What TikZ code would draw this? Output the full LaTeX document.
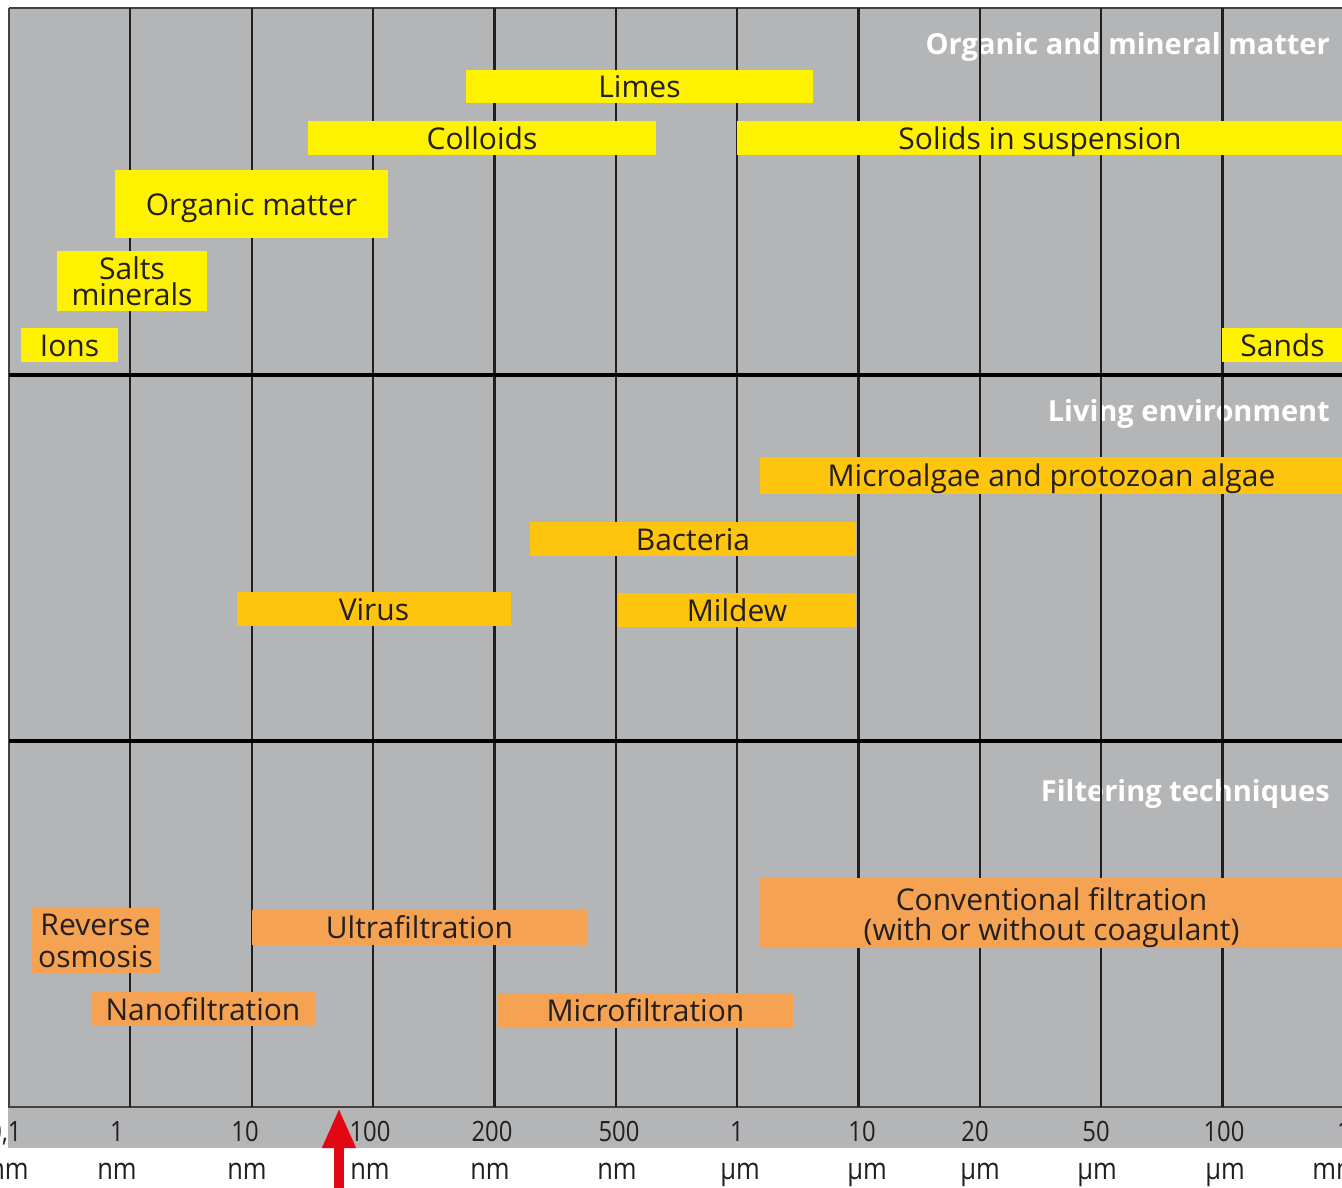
\documentclass[tikz,border=0pt]{standalone}
\usepackage{fontspec}
\setmainfont{Open Sans}
\newfontfamily\axisfont[FakeStretch=0.85]{Open Sans}
\usetikzlibrary{arrows.meta}
\definecolor{bggrey}{RGB}{180,181,183}
\definecolor{matyellow}{RGB}{255,242,0}
\definecolor{livyellow}{RGB}{255,197,14}
\definecolor{filtorange}{RGB}{245,163,82}
\definecolor{inkdark}{RGB}{35,31,32}
\definecolor{arrowred}{RGB}{227,6,19}
\begin{document}
\begin{tikzpicture}[x=1pt,y=-1pt,
  bartext/.style={inner sep=0pt, outer sep=0pt, text=inkdark, align=center,
    font=\fontsize{30}{28}\selectfont},
  bar/.style={bartext, text height=22.5pt, text depth=0pt},
  multibar/.style={bartext},
  matbar/.style={bar, fill=matyellow},
  livbar/.style={bar, fill=livyellow},
  filtbar/.style={bar, fill=filtorange},
  header/.style={anchor=east, text=white, inner sep=0pt,
    font=\fontsize{29}{30}\selectfont\bfseries},
  gridline/.style={line width=2.2pt, draw=inkdark},
  bandline/.style={line width=4pt, draw=black},
  frameline/.style={line width=1.6pt, draw=inkdark!85},
  axisnum/.style={anchor=base, inner sep=0pt, text=inkdark, font=\axisfont\fontsize{28}{28}\selectfont},
  axisunit/.style={anchor=base, inner sep=0pt, text=inkdark, font=\axisfont\fontsize{30}{30}\selectfont},
  redarrow/.style={draw=arrowred, line width=10pt, -{Triangle[width=31pt,length=40pt]}}
]
\useasboundingbox (0,0) rectangle (1342,1187);
% background
\fill[white] (0,0) rectangle (1342,1187);
\fill[bggrey] (9,8) rectangle (1343,1107);
\fill[bggrey] (8,1107) rectangle (1343,1148);

% headers (under grid lines)
\node[header] (hmat) at (1330,47) {Organic and mineral matter};
\node[header] (hliv) at (1330,414) {Living environment};
\node[header] (hfilt) at (1330,794) {Filtering techniques};

% frame
\draw[frameline] (9,8) -- (1343,8);
\draw[frameline] (9,8) -- (9,1107);
\draw[frameline] (8,1107) -- (1343,1107);

% grid lines
\foreach \i in {1,...,10}
  \draw[gridline] ({9+121.35*\i},8) -- ({9+121.35*\i},1107);
\draw[bandline] (9,375) -- (1343,375);
\draw[bandline] (9,741) -- (1343,741);

% organic and mineral matter
\node[matbar, minimum width=347pt, minimum height=33pt] (limes) at (639.5,86.5) {Limes};
\node[matbar, minimum width=348pt, minimum height=34pt] (colloids) at (482,138) {Colloids};
\node[matbar, minimum width=606pt, minimum height=34pt] (solids) at (1040,138) {Solids in suspension};
\node[matbar, minimum width=273pt, minimum height=68pt] (organic) at (251.5,204) {Organic matter};
\node[multibar, fill=matyellow, minimum width=150pt, minimum height=60pt, font=\fontsize{30}{26}\selectfont] (salts) at (132,281) {Salts\\minerals};
\node[matbar, minimum width=97pt, minimum height=34pt] (ions) at (69.5,345) {Ions};
\node[matbar, minimum width=121pt, minimum height=34pt] (sands) at (1282.5,345) {Sands};

% living environment
\node[livbar, minimum width=583pt, minimum height=37pt] (algae) at (1051.5,475.5) {Microalgae and protozoan algae};
\node[livbar, minimum width=326pt, minimum height=34pt] (bacteria) at (693,539) {Bacteria};
\node[livbar, minimum width=274pt, minimum height=34pt] (virus) at (374,609) {Virus};
\node[livbar, minimum width=238pt, minimum height=34pt] (mildew) at (737,610) {Mildew};

% filtering techniques
\node[multibar, fill=filtorange, minimum width=129pt, minimum height=65pt, font=\fontsize{30}{32}\selectfont] (reverse) at (95.5,940.5) {Reverse\\osmosis};
\node[filtbar, minimum width=335pt, minimum height=35pt] (ultra) at (419.5,927.5) {Ultrafiltration};
\node[fill=filtorange, inner sep=0pt, minimum width=583pt, minimum height=70pt] (conv) at (1051.5,913) {};
\node[multibar, font=\fontsize{30}{30}\selectfont, yshift=-5pt] (convtext) at (conv.center) {Conventional filtration\\(with or without coagulant)};
\node[filtbar, minimum width=224pt, minimum height=34pt] (nano) at (203,1009) {Nanofiltration};
\node[filtbar, minimum width=295pt, minimum height=35pt] (micro) at (645.5,1010.5) {Microfiltration};

% axis numbers
\foreach \x/\t/\n in {5/{0,1}/a0, 117/1/a1, 245/10/a2, 370/100/a3, 492/200/a4, 619/500/a5,
    737/1/a6, 862/10/a7, 975/20/a8, 1096/50/a9, 1224/100/a10, 1344/1/a11}
  \node[axisnum] (\n) at (\x,1141) {\t};
% axis units
\foreach \x/\t/\n in {9/nm/u0, 117/nm/u1, 247/nm/u2, 370/nm/u3, 490/nm/u4, 617/nm/u5,
    740/µm/u6, 867/µm/u7, 980/µm/u8, 1097/µm/u9, 1225/µm/u10, 1336/mm/u11}
  \node[axisunit] (\n) at (\x,1179) {\t};

% red arrow
\coordinate (arrowfoot) at (339,1190);
\coordinate (arrowtip) at (339,1108);
\draw[redarrow] (arrowfoot) -- (arrowtip);
\end{tikzpicture}
\end{document}
